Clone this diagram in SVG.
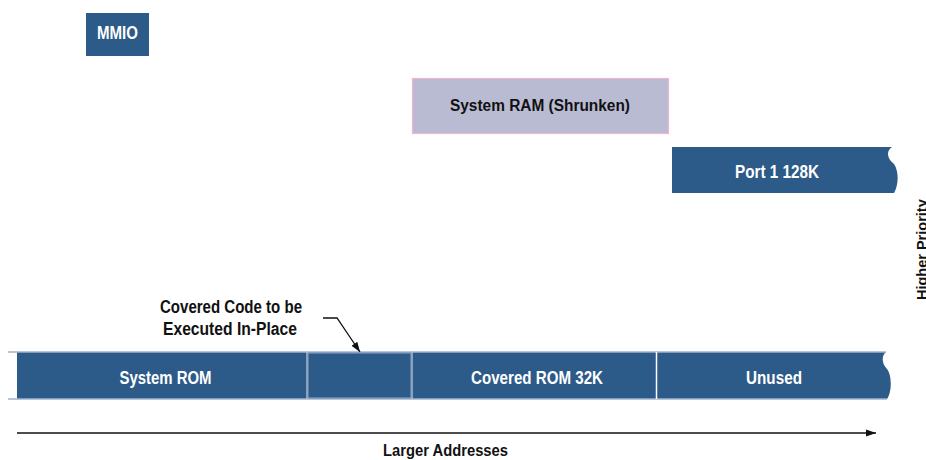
<svg xmlns="http://www.w3.org/2000/svg" width="926" height="460" viewBox="0 0 926 460">
<defs>
<style>
.blk{fill:#2c5a89}
.wt{fill:#ffffff;font-family:"Liberation Sans",Arial,sans-serif;font-weight:bold;font-size:17.5px;text-anchor:middle}
.bk{fill:#111111;font-family:"Liberation Sans",Arial,sans-serif;font-weight:bold;font-size:17.5px;text-anchor:middle}
.edge{stroke:#9fb3cb;stroke-width:1.5;fill:none}
</style>
<marker id="ah" viewBox="0 0 10 10" refX="10" refY="5" markerWidth="10" markerHeight="10" markerUnits="userSpaceOnUse" orient="auto">
<path d="M0,1.5 L10,5 L0,8.5 Z" fill="#111"/>
</marker>
</defs>
<g id="mmio">
<rect class="blk" x="86" y="13" width="63" height="43"/>
<text class="wt" x="117.5" y="38.5" textLength="41" lengthAdjust="spacingAndGlyphs">MMIO</text>
</g>
<g id="system-ram">
<rect x="412.5" y="78.5" width="256" height="55" fill="#b9bbd3" stroke="#f2b3cc" stroke-width="1.2"/>
<text class="bk" x="540" y="110.5" style="font-size:16px" textLength="180" lengthAdjust="spacingAndGlyphs">System RAM (Shrunken)</text>
</g>
<g id="port1">
<path class="blk" d="M672,147 H892 C886,151 887,158 893,163 C899,169 899,185 894,193 H672 Z"/>
<text class="wt" x="777" y="177.5" textLength="84" lengthAdjust="spacingAndGlyphs">Port 1 128K</text>
</g>
<g id="rom-bar">
<path class="blk" d="M17,352 H886 C881,356 882,364 887,369 C892,375 892,392 887,399 H17 Z"/>
<line class="edge" x1="8" y1="352" x2="886" y2="352"/>
<line class="edge" x1="8" y1="399" x2="887" y2="399"/>
<line x1="307" y1="352" x2="307" y2="399" stroke="#c8d4e2" stroke-width="1.2"/>
<line x1="412" y1="352" x2="412" y2="399" stroke="#c8d4e2" stroke-width="1.2"/>
<line x1="656.5" y1="352" x2="656.5" y2="399" stroke="#ffffff" stroke-width="1.5"/>
</g>
<g id="system-rom">
<text class="wt" x="165.5" y="384" textLength="92" lengthAdjust="spacingAndGlyphs">System ROM</text>
</g>
<g id="covered-code">
<rect x="308" y="353" width="103" height="45" fill="none" stroke="#8fa6c2" stroke-width="1"/>
</g>
<g id="covered-rom">
<text class="wt" x="537" y="384" textLength="132" lengthAdjust="spacingAndGlyphs">Covered ROM 32K</text>
</g>
<g id="unused">
<text class="wt" x="774" y="384" textLength="56" lengthAdjust="spacingAndGlyphs">Unused</text>
</g>
<g id="labels">
<text class="bk" x="231" y="313" textLength="142" lengthAdjust="spacingAndGlyphs">Covered Code to be</text>
<text class="bk" x="230" y="335" textLength="134" lengthAdjust="spacingAndGlyphs">Executed In-Place</text>
<text class="bk" x="445.5" y="456" style="font-size:16px" textLength="125" lengthAdjust="spacingAndGlyphs">Larger Addresses</text>
<text class="bk" transform="translate(927,300) rotate(-90)" style="text-anchor:start;font-size:14.5px">Higher Priority</text>
</g>
<g id="connectors">
<polyline points="323,318 337,318 360,352" fill="none" stroke="#111" stroke-width="1.3" marker-end="url(#ah)"/>
<line x1="17" y1="433" x2="876" y2="433" stroke="#111" stroke-width="1.5" marker-end="url(#ah)"/>
</g>
</svg>
